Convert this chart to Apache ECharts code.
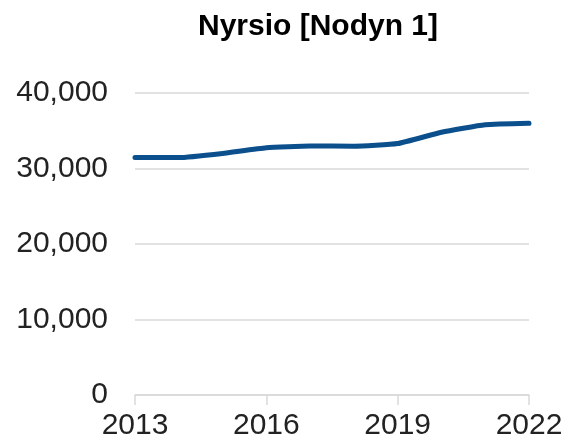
<!DOCTYPE html>
<html>
<head>
<meta charset="utf-8">
<script src="https://cdn.jsdelivr.net/npm/echarts@6/dist/echarts.min.js"></script>
<style>
  html, body { margin: 0; padding: 0; background: #fff; }
  #main { width: 571px; height: 446px; }
</style>
</head>
<body>
<div id="main"></div>
<script>
// data
var years = ['2013', '2014', '2015', '2016', '2017', '2018', '2019', '2020', '2021', '2022']
var nurses = [31450, 31450, 32000, 32750, 32980, 32950, 33300, 34800, 35800, 36000]
var yTicks = [0, 10000, 20000, 30000, 40000]

var myChart = echarts.init(document.getElementById('main'))
var option = {
  animation: false,
  title: {
    text: 'Nyrsio [Nodyn 1]',
    left: 313,
    textAlign: 'center',
    top: 7,
    textStyle: {
      fontFamily: 'Liberation Sans',
      fontWeight: 'bold',
      fontSize: 30,
      color: '#000'
    }
  },
  grid: {
    left: 135,
    right: 42,
    top: 93,
    bottom: 51,
    containLabel: false
  },
  xAxis: {
    type: 'category',
    data: years,
    boundaryGap: false,
    axisLine: { lineStyle: { color: '#d9d9d9', width: 1.5 } },
    axisTick: { show: true, interval: 2, length: 10, lineStyle: { color: '#d9d9d9', width: 1.5 } },
    axisLabel: {
      interval: 2,
      margin: 16,
      color: '#222',
      fontFamily: 'Liberation Sans',
      fontSize: 30
    },
    splitLine: { show: false }
  },
  yAxis: {
    type: 'value',
    min: yTicks[0],
    max: yTicks[yTicks.length - 1],
    interval: 10000,
    axisLine: { show: false },
    axisTick: { show: false },
    axisLabel: {
      margin: 27,
      color: '#222',
      fontFamily: 'Liberation Sans',
      fontSize: 30,
      formatter: function (v) { return v.toLocaleString('en-US') }
    },
    splitLine: { lineStyle: { color: '#d9d9d9', width: 1.5 } }
  },
  series: [{
    type: 'line',
    data: nurses,
    smooth: 0.15,
    symbol: 'none',
    lineStyle: { color: '#0b4f8c', width: 5, cap: 'round', join: 'round' },
    itemStyle: { color: '#0b4f8c' }
  }]
}
myChart.setOption(option)
</script>
</body>
</html>
